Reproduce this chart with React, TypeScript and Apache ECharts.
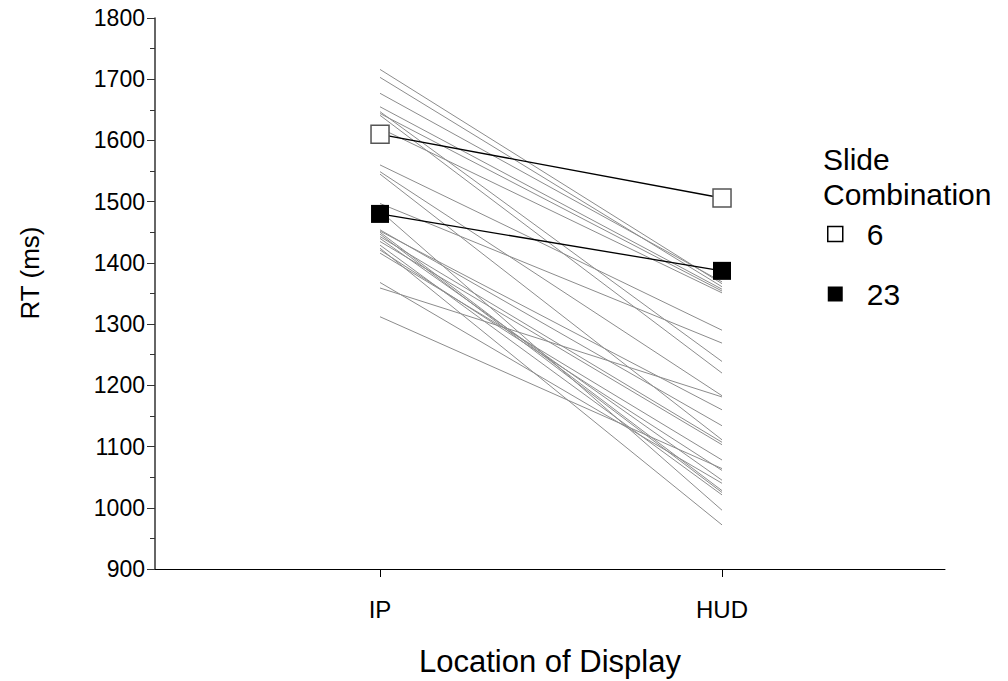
import React, { useEffect, useRef } from "react";
import * as echarts from "echarts";

const categories = ["IP", "HUD"];
const ipValues = [1716, 1703, 1677, 1655, 1647, 1644, 1641, 1620, 1560, 1549, 1545, 1497, 1485, 1454, 1452, 1450, 1447, 1443, 1440, 1435, 1429, 1424, 1421, 1416, 1368, 1359, 1312];
const hudValues = [1366, 1361, 1369, 1357, 1239, 1354, 1220, 1351, 1290, 1183, 1111, 1269, 996, 1134, 1160, 1028, 1025, 1107, 1045, 1103, 1021, 972, 1061, 1078, 1040, 1181, 1064];
const combo6 = [1610, 1506];
const combo23 = [1480, 1387];
const yTicks = { min: 900, max: 1800, step: 100 };

export default function App() {
  const ref = useRef<HTMLDivElement>(null);
  useEffect(() => {
    const chart = echarts.init(ref.current!, null, { renderer: "svg" });
    const font = "Liberation Sans, Arial, sans-serif";
    const gray = ipValues.map((v, i) => ({
      type: "line",
      data: [[1, v], [2, hudValues[i]]],
      symbol: "none",
      lineStyle: { color: "#8c8c8c", width: 1 },
      silent: true,
      z: 1,
    }));
    chart.setOption({
      animation: false,
      textStyle: { fontFamily: font },
      grid: { left: 155, right: 63, top: 18, bottom: 112 },
      xAxis: {
        type: "value",
        min: 0.342,
        max: 2.652,
        axisLine: { lineStyle: { color: "#000", width: 1 } },
        axisTick: { show: true, customValues: [1, 2], length: 8, lineStyle: { color: "#000" } },
        axisLabel: {
          customValues: [1, 2],
          formatter: (v: number) => categories[Math.round(v) - 1] ?? "",
          fontSize: 24,
          color: "#000",
          margin: 28,
          fontFamily: font,
        },
        splitLine: { show: false },
      },
      yAxis: {
        type: "value",
        min: yTicks.min,
        max: yTicks.max,
        interval: yTicks.step,
        axisLine: { show: true, lineStyle: { color: "#333", width: 1.5 } },
        axisTick: { show: true, length: 8, lineStyle: { color: "#333" } },
        minorTick: { show: true, splitNumber: 2, length: 5, lineStyle: { color: "#333" } },
        axisLabel: { fontSize: 23, color: "#000", margin: 10, fontFamily: font, formatter: (v: number) => String(v) },
        splitLine: { show: false },
      },
      legend: {
        data: [
          { name: "6", itemStyle: { color: "#fff", borderColor: "#000", borderWidth: 1.5 } },
          { name: "23", itemStyle: { color: "#000" } },
        ],
        orient: "vertical",
        left: 822,
        top: 214,
        icon: "rect",
        itemWidth: 15,
        itemHeight: 15,
        itemGap: 30,
        textStyle: { fontSize: 30, color: "#000", padding: [0, 0, 0, 19], fontFamily: font },
      },
      graphic: [
        { type: "text", left: 823, top: 144, style: { text: "Slide", fontSize: 30, fill: "#000", fontFamily: font } },
        { type: "text", left: 823, top: 179, style: { text: "Combination", fontSize: 30, fill: "#000", fontFamily: font } },
        {
          type: "text",
          x: 30,
          y: 273,
          rotation: Math.PI / 2,
          style: { text: "RT (ms)", fontSize: 26, fill: "#000", fontFamily: font, align: "center", verticalAlign: "middle" },
        },
        {
          type: "text",
          x: 550,
          y: 661,
          style: { text: "Location of Display", fontSize: 31, fill: "#000", fontFamily: font, align: "center", verticalAlign: "middle" },
        },
      ],
      series: [
        ...gray,
        {
          name: "6",
          type: "line",
          data: [[1, combo6[0]], [2, combo6[1]]],
          symbol: "rect",
          symbolSize: 18,
          itemStyle: { color: "#fff", borderColor: "#555", borderWidth: 1.5 },
          lineStyle: { color: "#000", width: 1.3 },
          z: 5,
        },
        {
          name: "23",
          type: "line",
          data: [[1, combo23[0]], [2, combo23[1]]],
          symbol: "rect",
          symbolSize: 18,
          itemStyle: { color: "#000", borderColor: "#000", borderWidth: 0 },
          lineStyle: { color: "#000", width: 1.3 },
          z: 5,
        },
      ],
    });
    return () => chart.dispose();
  }, []);
  return <div ref={ref} style={{ position: "fixed", left: 0, top: 0, width: 1008, height: 681, background: "#fff" }} />;
}
